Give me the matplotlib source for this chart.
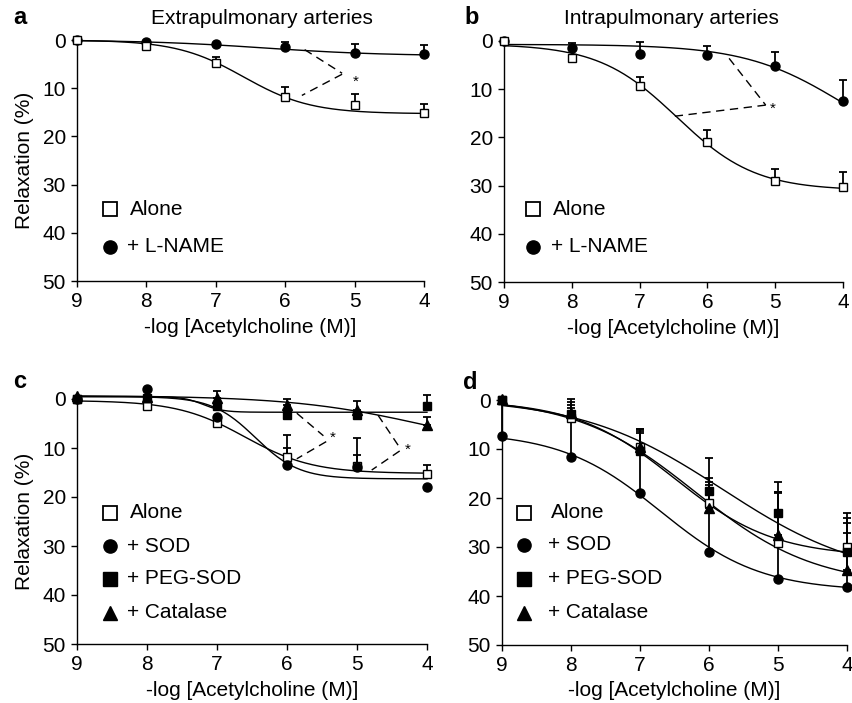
import numpy as np
import matplotlib
matplotlib.use('Agg')
import matplotlib.pyplot as plt
from matplotlib.lines import Line2D

plt.rcParams['font.family'] = ['Liberation Sans', 'DejaVu Sans']

W, H = 853, 703

# ---------------- data ----------------
x_conc = [9, 8, 7, 6, 5, 4]
yticks = [0, 10, 20, 30, 40, 50]
xlabel = '-log [Acetylcholine (M)]'
ylabel = 'Relaxation (%)'

# panel a : extrapulmonary
a_alone = [0.0, 1.2, 4.8, 11.8, 13.5, 15.2]
a_alone_err = [0, 0, 1.3, 2.1, 2.3, 1.9]
a_lname = [0.0, 0.35, 0.8, 1.5, 2.7, 2.9]
a_lname_err = [0, 0, 0, 1.0, 1.9, 1.9]
a_alone_fit = (0.0, 15.3, 6.6, 0.9)      # bottom, top, pEC50, hill
a_lname_fit = (0.0, 3.3, 6.3, 0.5)

# panel b : intrapulmonary
b_alone = [0.0, 3.6, 9.3, 20.9, 29.0, 30.3]
b_alone_err = [0, 0, 1.8, 2.4, 2.5, 3.1]
b_lname = [0.0, 1.5, 2.6, 2.9, 5.1, 12.4]
b_lname_err = [0, 1.1, 2.3, 1.9, 2.9, 4.3]
b_alone_fit = (0.6, 31.0, 6.45, 0.75)
b_lname_fit = (0.7, 25.0, 4.0, 0.6)

# panel c : extrapulmonary with antioxidants
c_alone = [0.0, 1.5, 4.9, 11.8, 13.7, 15.3]
c_alone_err = [0, 0, 0, 1.9, 2.3, 1.8]
c_sod = [0.0, -2.0, 3.6, 13.5, 13.8, 17.9]
c_sod_err = [0, 0, 0, 6.2, 5.9, 0]
c_peg = [0.0, -0.3, 1.5, 3.3, 3.2, 1.4]
c_peg_err = [0, 0, 0, 0, 0, 2.2]
c_cat = [-0.6, -0.5, -0.3, 1.2, 2.2, 5.3]
c_cat_err = [0, 0, 1.3, 1.2, 1.7, 1.7]
c_alone_fit = (0.3, 15.2, 6.6, 0.9)
c_sod_fit = (-0.5, 16.3, 6.45, 1.4)
c_peg_fit = (-0.5, 2.7, 7.2, 3.0)
c_cat_fit = (-0.7, 11.5, 4.0, 0.45)

# panel d : intrapulmonary with antioxidants
d_alone = [0.0, 3.7, 9.5, 21.0, 29.1, 30.1]
d_alone_err = [0, 2.1, 3.2, 4.2, 10.3, 6.0]
d_sod = [7.3, 11.6, 18.9, 31.0, 36.6, 38.2]
d_sod_err = [7.3, 11.8, 13.0, 19.1, 19.8, 15.1]
d_peg = [-0.1, 2.9, 10.5, 18.5, 23.0, 31.0]
d_peg_err = [0, 2.5, 3.8, 2.5, 4.2, 5.9]
d_cat = [-0.3, 2.6, 9.5, 22.1, 27.6, 34.7]
d_cat_err = [0, 1.5, 3.5, 4.8, 8.6, 7.6]
d_alone_fit = (0.0, 32.0, 6.5, 0.6)
d_sod_fit = (6.5, 39.0, 6.7, 0.6)
d_peg_fit = (-0.5, 37.0, 5.8, 0.42)
d_cat_fit = (-0.5, 38.0, 6.2, 0.5)

# significance brackets (data coords) and asterisks
a_brackets = [[(5.72, 2.0), (5.18, 6.9)], [(5.18, 7.1), (5.76, 11.5)]]
a_stars = [(4.99, 8.7)]
b_brackets = [[(5.68, 3.6), (5.14, 13.3)], [(5.14, 13.3), (6.48, 15.6)]]
b_stars = [(5.03, 14.0)]
c_brackets = [[(5.86, 2.9), (5.48, 7.5)], [(5.44, 8.7), (5.86, 12.2)],
              [(4.70, 3.3), (4.40, 9.7)], [(4.39, 10.6), (4.79, 14.5)]]
c_stars = [(5.35, 8.0), (4.28, 10.4)]

FS = 15

def hill(x, p):
    bottom, top, pec, h = p
    return bottom + (top - bottom) / (1 + 10 ** ((x - pec) * h))

STY = {
    'alone': dict(marker='s', mfc='white', mec='black', ms=5.5, mew=1.0),
    'circ': dict(marker='o', mfc='black', mec='black', ms=6.5, mew=1.0),
    'sq': dict(marker='s', mfc='black', mec='black', ms=6.0, mew=1.0),
    'tri': dict(marker='^', mfc='black', mec='black', ms=6.8, mew=1.0),
}

fig = plt.figure(figsize=(W / 100, H / 100), dpi=100)

def add_axes_px(l, r, t, b):
    return fig.add_axes([l / W, 1 - b / H, (r - l) / W, (b - t) / H])

def style_ax(ax, show_ylabel):
    ax.set_xlim(9, 4)
    ax.set_ylim(50, 0)
    ax.set_xticks(x_conc)
    ax.set_yticks(yticks)
    for s in ['top', 'right']:
        ax.spines[s].set_visible(False)
    for s in ['left', 'bottom']:
        ax.spines[s].set_linewidth(1.0)
    ax.tick_params(direction='out', length=4, width=1.0, labelsize=FS, pad=4)
    ax.set_xlabel(xlabel, fontsize=FS)
    if show_ylabel:
        ax.set_ylabel(ylabel, fontsize=FS)

def series(ax, y, err, fit, sty):
    xs = np.linspace(9, 4, 300)
    ax.plot(xs, hill(xs, fit), color='black', lw=1.0, zorder=2, clip_on=False)
    err = np.asarray(err, dtype=float)
    ax.errorbar(x_conc, y, yerr=[err, np.zeros_like(err)], fmt='none', ecolor='black',
                elinewidth=1.3, capsize=3, capthick=1.3, zorder=3, clip_on=False)
    ax.plot(x_conc, y, linestyle='none', zorder=4, clip_on=False, **STY[sty])

def brackets(ax, br, stars):
    for seg in br:
        (x0, y0), (x1, y1) = seg
        ax.plot([x0, x1], [y0, y1], color='black', lw=1.0, linestyle=(0, (6, 4)),
                zorder=1)
    for (xs, ys) in stars:
        ax.text(xs, ys, '*', fontsize=11, ha='center', va='center')

def legend_px(items, mx, tx_alone, tx_plus, ys, msz=9.5):
    for (lab, sty), yy in zip(items, ys):
        st = dict(STY[sty])
        st['ms'] = msz if sty != 'tri' else msz + 1
        if sty == 'alone':
            st['mew'] = 1.3
        fig.add_artist(Line2D([mx / W], [1 - yy / H], linestyle='none',
                              transform=fig.transFigure, **st))
        tx = tx_alone if sty == 'alone' else tx_plus
        fig.text(tx / W, 1 - yy / H, lab, fontsize=FS, ha='left', va='center')

panels = {
    'a': (77, 424, 40, 281),
    'b': (504, 843, 41, 282),
    'c': (77, 427, 399, 644),
    'd': (502, 847, 400, 645),
}

axes = {}
for k, (l, r, t, b) in panels.items():
    ax = add_axes_px(l, r, t, b)
    style_ax(ax, k in ('a', 'c'))
    ax.xaxis.set_label_coords(0.5, -(46) / (b - t))
    ax.xaxis.label.set_va('center')
    if k in ('a', 'c'):
        ax.yaxis.set_label_coords(-(l - 24) / (r - l), 0.5)
        ax.yaxis.label.set_va('center')
    axes[k] = ax

# panel a
ax = axes['a']
series(ax, a_lname, a_lname_err, a_lname_fit, 'circ')
series(ax, a_alone, a_alone_err, a_alone_fit, 'alone')
brackets(ax, a_brackets, a_stars)
legend_px([('Alone', 'alone'), ('+ L-NAME', 'circ')], 110, 130, 127, [209, 247])

# panel b
ax = axes['b']
series(ax, b_lname, b_lname_err, b_lname_fit, 'circ')
series(ax, b_alone, b_alone_err, b_alone_fit, 'alone')
brackets(ax, b_brackets, b_stars)
legend_px([('Alone', 'alone'), ('+ L-NAME', 'circ')], 533, 553, 551, [209, 247])

# panel c
ax = axes['c']
series(ax, c_alone, c_alone_err, c_alone_fit, 'alone')
series(ax, c_sod, c_sod_err, c_sod_fit, 'circ')
series(ax, c_peg, c_peg_err, c_peg_fit, 'sq')
series(ax, c_cat, c_cat_err, c_cat_fit, 'tri')
brackets(ax, c_brackets, c_stars)
legend_px([('Alone', 'alone'), ('+ SOD', 'circ'), ('+ PEG-SOD', 'sq'),
           ('+ Catalase', 'tri')], 110, 130, 127, [513, 546, 579, 613])

# panel d
ax = axes['d']
series(ax, d_alone, d_alone_err, d_alone_fit, 'alone')
series(ax, d_sod, d_sod_err, d_sod_fit, 'circ')
series(ax, d_peg, d_peg_err, d_peg_fit, 'sq')
series(ax, d_cat, d_cat_err, d_cat_fit, 'tri')
legend_px([('Alone', 'alone'), ('+ SOD', 'circ'), ('+ PEG-SOD', 'sq'),
           ('+ Catalase', 'tri')], 524, 551, 548, [513, 545, 579, 613])

# panel letters & titles
for lab, (px, py) in {'a': (20, 17), 'b': (472, 17), 'c': (20, 381), 'd': (470, 382)}.items():
    fig.text(px / W, 1 - py / H, lab, fontsize=17, fontweight='bold', ha='center', va='center')
fig.text(262 / W, 1 - 18 / H, 'Extrapulmonary arteries', fontsize=FS, ha='center', va='center')
fig.text(671 / W, 1 - 18 / H, 'Intrapulmonary arteries', fontsize=FS, ha='center', va='center')

fig.savefig('out.png', dpi=100)
